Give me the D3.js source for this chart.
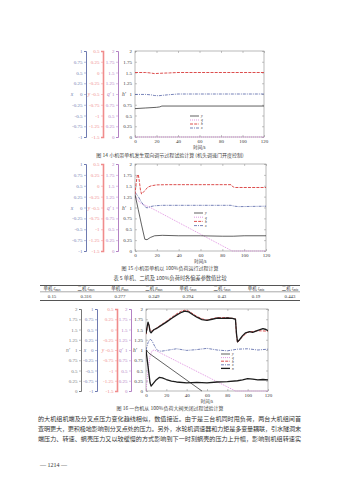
<!DOCTYPE html>
<html><head><meta charset="utf-8">
<script src="https://cdn.jsdelivr.net/npm/d3@7/dist/d3.min.js"></script>
<style>
html,body{margin:0;padding:0;background:#fff;}
svg{display:block;}
</style></head><body>
<svg id="page" width="339" height="480"></svg>
<script>
// ---------- shared tick sets ----------
const timeTicks = [0, 20, 40, 60, 80, 100, 120];
const ticksUnit = [0, 0.25, 0.5, 0.75, 1, 1.25, 1.5, 1.75, 2];          // h', q', n' axes
const ticksDev  = [-1, -0.75, -0.5, -0.25, 0, 0.25, 0.5, 0.75, 1];       // x axis
const ticksHead = [-1.5, -1.25, -1, -0.75, -0.5, -0.25, 0, 0.25, 0.5];   // y axis

// ---------- 图14 ----------
const f14_t_y = [0, 10, 20, 23, 25, 120];
const f14_y   = [0.66, 0.675, 0.69, 0.70, 0.72, 0.72];
const f14_t_x = [0, 10, 15, 18, 22, 26, 30, 40, 120];
const f14_x   = [-0.01, -0.01, -0.02, -0.035, -0.04, -0.03, -0.02, 0, 0];
const f14_t_h = [0, 10, 14, 18, 22, 26, 32, 40, 120];
const f14_h   = [0, 0, -0.01, -0.025, -0.02, -0.015, -0.01, 0, 0];
const f14_t_q = [0, 120];
const f14_q   = [0, 0];

// ---------- 图15 ----------
const f15_t_y = [0, 3, 6, 9, 11, 14, 18, 25, 40, 60, 80, 90, 100, 120];
const f15_y   = [1.3, 0.95, 0.6, 0.27, 0.26, 0.31, 0.35, 0.36, 0.35, 0.35, 0.34, 0.34, 0.35, 0.35];
const f15_t_x = [0, 3, 6, 9, 11, 14, 18, 25, 60, 88, 91, 95, 120];
const f15_x   = [0.35, 0.25, 0.12, 0.02, -0.01, 0.02, 0.04, 0.05, 0.05, 0.05, 0.03, 0.02, 0.03];
const f15_t_h = [0, 1, 2, 3, 4, 5, 6, 8, 10, 12, 15, 20, 30, 88, 90, 92, 120];
const f15_h   = [-0.2, 0.05, 0.22, 0.26, 0.1, -0.1, -0.19, -0.14, -0.08, -0.03, 0, 0.02, 0.025, 0.025, -0.03, -0.04, -0.04];
const f15_t_q = [0, 5, 14, 89, 120];
const f15_q   = [1.25, 1.1, 1.0, 0, 0];

// ---------- 图16 ----------
const f16_t_n = [0, 1, 2, 3, 4, 5, 6, 8, 10, 15, 20, 25, 30, 35, 38, 42, 45, 50, 55, 60, 65, 70, 75, 80, 85, 88, 89, 90, 92, 95, 98, 102, 105, 110, 115, 118, 120];
const f16_n   = [1.4, 1.55, 1.68, 1.6, 1.45, 1.42, 1.45, 1.5, 1.52, 1.6, 1.68, 1.77, 1.85, 1.92, 1.95, 1.93, 1.88, 1.8, 1.74, 1.72, 1.75, 1.78, 1.77, 1.78, 1.77, 1.75, 1.4, 1.2, 1.25, 1.35, 1.42, 1.45, 1.43, 1.48, 1.52, 1.5, 1.47];
const f16_t_h = [0, 1, 2, 3, 4, 6, 10, 20, 30, 35, 38, 42, 50, 55, 60, 70, 80, 88, 89, 90, 92, 95, 100, 110, 120];
const f16_h   = [-0.12, 0.02, 0.16, 0.1, -0.03, -0.04, 0.03, 0.2, 0.38, 0.45, 0.47, 0.45, 0.32, 0.26, 0.23, 0.29, 0.29, 0.26, -0.15, -0.32, -0.26, -0.17, -0.07, -0.03, -0.04];
const f16_t_x = [0, 2, 4, 6, 8, 10, 12, 15, 20, 30, 40, 50, 60, 70, 80, 90, 100, 110, 120];
const f16_x   = [0, 0.18, 0.27, 0.22, 0.12, 0.03, -0.02, -0.03, -0.01, 0.03, -0.01, 0.01, 0.04, 0, -0.02, 0.02, 0.03, 0, 0.02];
const f16_t_q = [0, 2, 4, 6, 8, 10, 88, 120];
const f16_q   = [0, 0.5, 0.85, 0.98, 1.0, 0.98, 0, 0];
const f16_t_y = [0, 3, 55];
const f16_y   = [1.0, 0.92, 0];
const f16_t_p = [0, 2, 4, 5, 7, 10, 13, 16, 20, 25, 30, 40, 50, 60, 70, 80, 90, 95, 100, 105, 110, 115, 120];
const f16_p   = [1.0, 0.6, 0.2, 0.12, 0.18, 0.27, 0.33, 0.32, 0.28, 0.24, 0.22, 0.2, 0.21, 0.2, 0.22, 0.23, 0.25, 0.27, 0.3, 0.29, 0.27, 0.28, 0.27];

// ---------- 表5 ----------
const tableHeads = [["单机", "ζ", "max"], ["二机", "ζ", "max"], ["单机", "β", "max"], ["二机", "β", "max"],
                    ["单机", "ξ", "max"], ["二机", "ξ", "max"], ["单机", "ξ", "min"], ["二机", "ξ", "min"]];
const tableValues = ["0.15", "0.316", "0.277", "0.249", "0.294", "0.43", "0.19", "0.443"];

// ---------- 正文 ----------
const bodyLines = [
  "的大机组机端及分叉点压力变化趋线相似，数值接近。由于是三台机同时甩负荷，两台大机组间首",
  "查明更大，更积极地影响到分叉点处的压力。另外，水轮机调速器和力矩是多变量耦联，引水隧洞末",
  "端压力、转速、蜗壳压力又以较缓慢的方式影响到下一时刻蜗壳的压力上升幅，影响到机组转速实"
];

// ---------- styles ----------
const C = {
  black: "#1c1c1c", blue: "#3b4c9a", red: "#d83a3a", pink: "#d46ad6",
  axBlue: "#6f7bb0", axRed: "#f08c8c", axPurple: "#b482c4", axGray: "#777", frame: "#8a8a8a"
};
const NUM_FONT = "'Liberation Serif', 'DejaVu Serif', serif";
const CJK_FONT = "'Noto Sans CJK SC', 'Noto Sans', sans-serif";
const styles = {
  y: { color: C.black, dash: null, w: 0.7 },
  n: { color: C.black, dash: null, w: 1.3 },
  p: { color: C.black, dash: null, w: 1.3 },
  q: { color: C.pink,  dash: "1,1", w: 0.7 },
  h: { color: C.red,   dash: "3,1.2", w: 0.9 },
  x: { color: C.blue,  dash: "3,1,1,1", w: 0.7 }
};

const svg = d3.select("#page");
const fmt = d => String(d);

function sideAxis(g, scale, x, ticks, color, width, name, nameX, nameY) {
  const ax = g.append("g").attr("transform", `translate(${x},0)`)
    .call(d3.axisLeft(scale).tickValues(ticks).tickSize(2).tickPadding(1.5).tickFormat(fmt));
  ax.select(".domain").attr("stroke", color).attr("stroke-width", width);
  ax.selectAll(".tick line").attr("stroke", color).attr("stroke-width", 0.5);
  ax.selectAll(".tick text").attr("fill", color).style("font", `5px ${NUM_FONT}`);
  g.append("text").attr("x", nameX).attr("y", nameY).attr("fill", color)
    .attr("text-anchor", "middle").style("font", `italic 5.5px ${NUM_FONT}`).text(name);
}

function drawChart(cfg) {
  const g = svg.append("g");
  const t = d3.scaleLinear().domain([0, 120]).range([cfg.left, cfg.right]);
  const yMain = d3.scaleLinear().domain([0, 2]).range([cfg.bottom, cfg.top]);
  const scales = {
    main: yMain,
    dev: d3.scaleLinear().domain([-1, 1]).range([cfg.bottom, cfg.top]),
    head: d3.scaleLinear().domain([-1.5, 0.5]).range([cfg.bottom, cfg.top]),
    unit: d3.scaleLinear().domain([0, 2]).range([cfg.bottom, cfg.top])
  };
  const tickOf = { main: ticksUnit, dev: ticksDev, head: ticksHead, unit: ticksUnit };

  cfg.axes.forEach(a => sideAxis(g, scales[a.kind], a.x, tickOf[a.kind], a.color,
    a.kind === "head" ? 1.6 : 1, a.name, a.nameX, (cfg.top + cfg.bottom) / 2 + 2));

  // plot box
  g.append("rect").attr("x", cfg.left).attr("y", cfg.top)
    .attr("width", cfg.right - cfg.left).attr("height", cfg.bottom - cfg.top)
    .attr("fill", "none").attr("stroke", C.frame).attr("stroke-width", 0.6);

  const left = g.append("g").attr("transform", `translate(${cfg.left},0)`)
    .call(d3.axisLeft(yMain).tickValues(ticksUnit).tickSize(-2).tickPadding(3).tickFormat(fmt));
  const right = g.append("g").attr("transform", `translate(${cfg.right},0)`)
    .call(d3.axisRight(yMain).tickValues(ticksUnit).tickSize(-2).tickFormat(""));
  const bottom = g.append("g").attr("transform", `translate(0,${cfg.bottom})`)
    .call(d3.axisBottom(t).tickValues(timeTicks).tickSize(-2).tickPadding(2));
  const top = g.append("g").attr("transform", `translate(0,${cfg.top})`)
    .call(d3.axisTop(t).tickValues(timeTicks).tickSize(-2).tickFormat(""));
  [left, right, bottom, top].forEach(a => {
    a.select(".domain").remove();
    a.selectAll(".tick line").attr("stroke", C.frame).attr("stroke-width", 0.5);
    a.selectAll(".tick text").attr("fill", "#333").style("font", `5px ${NUM_FONT}`);
  });
  g.append("text").attr("x", cfg.mainNameX).attr("y", (cfg.top + cfg.bottom) / 2 + 2)
    .attr("fill", "#333").attr("text-anchor", "middle")
    .style("font", `italic 5.5px ${NUM_FONT}`).text(cfg.mainName);
  g.append("text").attr("x", (cfg.left + cfg.right) / 2).attr("y", cfg.bottom + 12.3)
    .attr("text-anchor", "middle").attr("fill", "#333")
    .style("font", `4.3px ${CJK_FONT}`).text("时间/s");

  // curves
  const clip = "clip" + cfg.id;
  g.append("clipPath").attr("id", clip).append("rect")
    .attr("x", cfg.left).attr("y", cfg.top - 1).attr("width", cfg.right - cfg.left).attr("height", cfg.bottom - cfg.top + 2);
  const line = sc => d3.line().x(d => t(d[0])).y(d => sc(d[1]));
  cfg.series.forEach(s => {
    const st = styles[s.key];
    const pts = s.t.map((tt, i) => [tt, s.v[i]]);
    g.append("path").attr("clip-path", `url(#${clip})`)
      .attr("d", line(scales[s.kind])(pts)).attr("fill", "none")
      .attr("stroke", st.color).attr("stroke-width", st.w)
      .attr("stroke-dasharray", st.dash).attr("stroke-linejoin", "round");
  });

  // legend
  const lg = g.append("g");
  cfg.legend.keys.forEach((k, i) => {
    const st = styles[k];
    const yy = cfg.legend.y + i * cfg.legend.dy;
    lg.append("line").attr("x1", cfg.legend.x).attr("x2", cfg.legend.x + 9).attr("y1", yy).attr("y2", yy)
      .attr("stroke", st.color).attr("stroke-width", st.w).attr("stroke-dasharray", st.dash);
    lg.append("text").attr("x", cfg.legend.x + 11).attr("y", yy + 1.3).attr("fill", "#333")
      .style("font", `italic 3.6px ${NUM_FONT}`).text(k);
  });

  // caption
  g.append("text").attr("x", cfg.capX).attr("y", cfg.capY).attr("text-anchor", "middle")
    .attr("fill", "#444").style("font", `5px ${CJK_FONT}`).text(cfg.caption);
}

drawChart({
  id: 14, left: 135, right: 264, top: 51, bottom: 137, mainName: "h'", mainNameX: 124,
  axes: [
    { kind: "dev",  x: 86,  color: C.axBlue,   name: "x",  nameX: 72 },
    { kind: "head", x: 103, color: C.axRed,    name: "y",  nameX: 89 },
    { kind: "unit", x: 118, color: C.axPurple, name: "q'", nameX: 109 }
  ],
  series: [
    { key: "q", kind: "unit", t: f14_t_q, v: f14_q },
    { key: "y", kind: "main", t: f14_t_y, v: f14_y },
    { key: "x", kind: "dev",  t: f14_t_x, v: f14_x },
    { key: "h", kind: "head", t: f14_t_h, v: f14_h }
  ],
  legend: { x: 190, y: 116, dy: 4, keys: ["y", "q", "h", "x"] },
  caption: "图 14   小机带单机发生双向调节过程试验计算 (机头调速门开度控制)", capX: 170, capY: 156.5
});

drawChart({
  id: 15, left: 135, right: 266, top: 164, bottom: 251, mainName: "h'", mainNameX: 124,
  axes: [
    { kind: "dev",  x: 86,  color: C.axBlue,   name: "x",  nameX: 72 },
    { kind: "head", x: 103, color: C.axRed,    name: "y",  nameX: 89 },
    { kind: "unit", x: 118, color: C.axPurple, name: "q'", nameX: 109 }
  ],
  series: [
    { key: "q", kind: "unit", t: f15_t_q, v: f15_q },
    { key: "y", kind: "main", t: f15_t_y, v: f15_y },
    { key: "x", kind: "dev",  t: f15_t_x, v: f15_x },
    { key: "h", kind: "head", t: f15_t_h, v: f15_h }
  ],
  legend: { x: 194, y: 213, dy: 4.2, keys: ["y", "q", "h", "x"] },
  caption: "图 15   小机带单机以 100%负荷运行过程计算", capX: 170, capY: 270
});

drawChart({
  id: 16, left: 146, right: 268, top: 309, bottom: 391, mainName: "h'", mainNameX: 135,
  axes: [
    { kind: "unit", x: 81,  color: C.axGray,   name: "n'", nameX: 68 },
    { kind: "dev",  x: 97,  color: C.axBlue,   name: "x",  nameX: 85 },
    { kind: "head", x: 117, color: C.axRed,    name: "y",  nameX: 103 },
    { kind: "unit", x: 131, color: C.axPurple, name: "q'", nameX: 121 }
  ],
  series: [
    { key: "q", kind: "unit", t: f16_t_q, v: f16_q },
    { key: "y", kind: "main", t: f16_t_y, v: f16_y },
    { key: "p", kind: "main", t: f16_t_p, v: f16_p },
    { key: "x", kind: "dev",  t: f16_t_x, v: f16_x },
    { key: "h", kind: "head", t: f16_t_h, v: f16_h },
    { key: "n", kind: "unit", t: f16_t_n, v: f16_n }
  ],
  legend: { x: 221, y: 354, dy: 3.6, keys: ["y", "q", "h", "x", "n"] },
  caption: "图 16   一台机从 100%负荷大阀关闭过程试验计算", capX: 170, capY: 410
});

// ---------- table ----------
const tb = svg.append("g");
const tx = d3.scalePoint().domain(d3.range(tableValues.length)).range([52, 290]);
tb.append("text").attr("x", 170).attr("y", 279.5).attr("text-anchor", "middle").attr("fill", "#444")
  .style("font", `5.2px ${CJK_FONT}`).text("表 5   单机、二机及 100%负荷时各偏差参数值比较");
[[285.5, 1.1], [291.8, 0.5], [300.5, 1.1]].forEach(([yy, w]) =>
  tb.append("line").attr("x1", 40).attr("x2", 300).attr("y1", yy).attr("y2", yy)
    .attr("stroke", "#555").attr("stroke-width", w));
tableHeads.forEach((h, i) => {
  const te = tb.append("text").attr("x", tx(i)).attr("y", 290).attr("text-anchor", "middle")
    .attr("fill", "#333").style("font", `4.4px ${CJK_FONT}`);
  te.append("tspan").text(h[0]);
  te.append("tspan").style("font-family", NUM_FONT).style("font-style", "italic").text(" " + h[1]);
  te.append("tspan").attr("dy", 1).style("font-size", "3px").style("font-family", NUM_FONT).text(h[2]);
});
tableValues.forEach((v, i) =>
  tb.append("text").attr("x", tx(i)).attr("y", 297.5).attr("text-anchor", "middle").attr("fill", "#333")
    .style("font", `4.8px ${NUM_FONT}`).text(v));

// ---------- body text ----------
bodyLines.forEach((s, i) =>
  svg.append("text").attr("x", 38).attr("y", 421 + i * 10).attr("textLength", 263)
    .attr("lengthAdjust", "spacing").attr("fill", "#333")
    .style("font", `6.1px ${CJK_FONT}`).text(s));
svg.append("text").attr("x", 40).attr("y", 467).attr("fill", "#333")
  .style("font", `6px ${NUM_FONT}`).text("— 1214 —");
</script>
</body></html>
